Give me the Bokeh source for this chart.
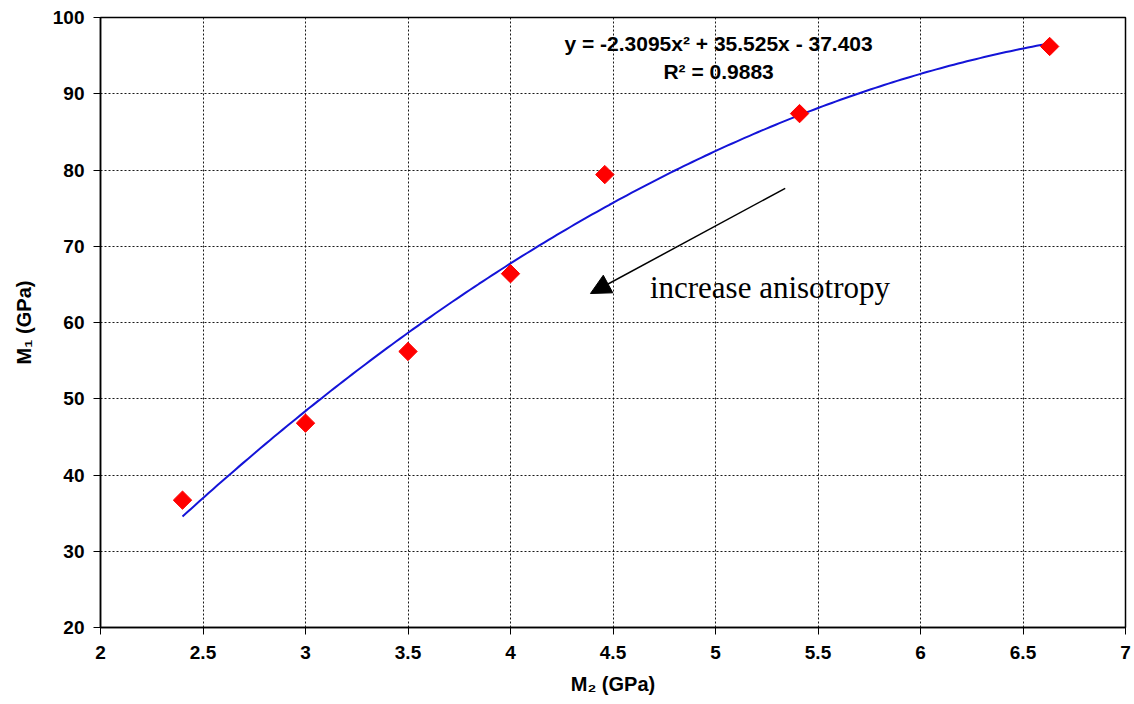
from bokeh.plotting import figure
from bokeh.models import Arrow, NormalHead, Label, FixedTicker, Range1d
from bokeh.embed import file_html
from bokeh.resources import INLINE
import numpy as np

# Measured moduli
m2_gpa = [2.40, 3.00, 3.50, 4.00, 4.46, 5.41, 6.63]
m1_gpa = [36.7, 46.8, 56.2, 66.4, 79.4, 87.4, 96.2]

# Second-order polynomial trend
coef_a, coef_b, coef_c = -2.3095, 35.525, -37.403
r_squared = 0.9883

x_ticks = [2, 2.5, 3, 3.5, 4, 4.5, 5, 5.5, 6, 6.5, 7]
y_ticks = [20, 30, 40, 50, 60, 70, 80, 90, 100]

p = figure(width=1134, height=704, output_backend="svg", toolbar_location=None,
           x_range=Range1d(2, 7), y_range=Range1d(20, 100),
           min_border_left=100, min_border_right=9, min_border_top=17,
           min_border_bottom=77)
p.background_fill_color = "white"
p.border_fill_color = "white"
p.outline_line_color = "black"
p.outline_line_width = 1.5

font = "Liberation Sans"
for ax in (p.xaxis[0], p.yaxis[0]):
    ax.major_label_text_font = font
    ax.major_label_text_font_style = "bold"
    ax.major_label_text_font_size = "19px"
    ax.major_label_text_color = "black"
    ax.axis_label_text_font = font
    ax.axis_label_text_font_style = "bold"
    ax.axis_label_text_font_size = "20px"
    ax.axis_label_text_color = "black"
    ax.axis_line_color = "black"
    ax.axis_line_width = 1.5
    ax.major_tick_line_color = "black"
    ax.major_tick_in = 0
    ax.major_tick_out = 7
    ax.minor_tick_line_color = None

p.xaxis.ticker = FixedTicker(ticks=x_ticks)
p.yaxis.ticker = FixedTicker(ticks=y_ticks)
p.xaxis.major_label_overrides = {t: (str(int(t)) if float(t).is_integer() else str(t)) for t in x_ticks}
p.xaxis.major_label_standoff = 11
p.yaxis.major_label_standoff = 9
p.xaxis.axis_label = "M₂ (GPa)"
p.yaxis.axis_label = "M₁ (GPa)"
p.xaxis.axis_label_standoff = 11
p.yaxis.axis_label_standoff = 15

for g in (p.xgrid[0], p.ygrid[0]):
    g.grid_line_color = "black"
    g.grid_line_alpha = 0.9
    g.grid_line_dash = "2 2"
    g.grid_line_width = 1

# Trend curve over the measured range
xs = np.linspace(min(m2_gpa), max(m2_gpa), 200)
ys = coef_a * xs ** 2 + coef_b * xs + coef_c
p.line(xs, ys, line_color="#1414d8", line_width=2)

p.scatter(m2_gpa, m1_gpa, marker="square", size=13, angle=np.pi / 4,
          fill_color="#ff0000", line_color="#ff0000")

# Equation of the fit
eq = f"y = {coef_a}x² + {coef_b}x - {abs(coef_c)}"
p.add_layout(Label(x=5.015, y=96.6, text=eq, text_font=font,
                   text_font_style="bold", text_font_size="21px",
                   text_align="center", text_baseline="middle",
                   text_color="black"))
p.add_layout(Label(x=5.015, y=92.9, text=f"R² = {r_squared}", text_font=font,
                   text_font_style="bold", text_font_size="21px",
                   text_align="center", text_baseline="middle",
                   text_color="black"))

# Direction of increasing anisotropy
p.add_layout(Arrow(x_start=5.34, y_start=77.6, x_end=4.39, y_end=63.8,
                   line_color="black", line_width=1.5,
                   end=NormalHead(size=20, fill_color="black", line_color="black")))
p.add_layout(Label(x=4.68, y=64.6, text="increase anisotropy",
                   text_font="Liberation Serif", text_font_size="31px",
                   text_baseline="middle", text_color="black"))

open("out.html", "w").write(file_html(p, INLINE))
